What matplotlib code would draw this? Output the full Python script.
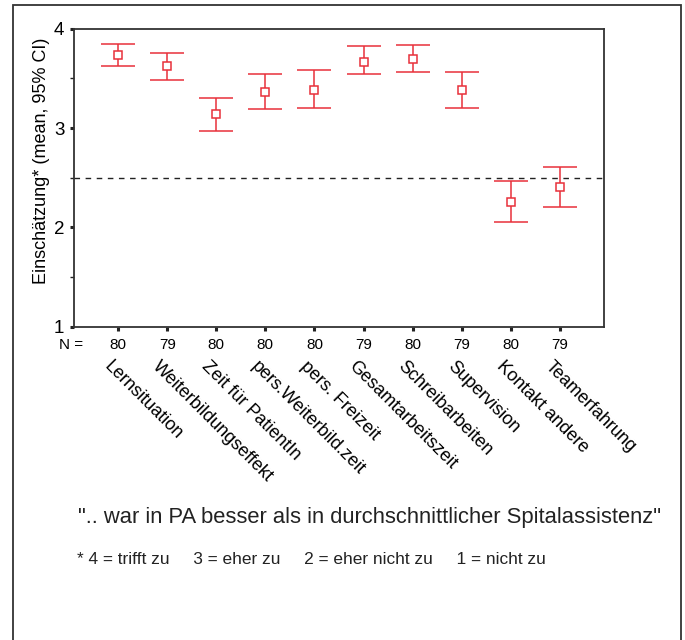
import matplotlib
matplotlib.use("Agg")
import matplotlib.pyplot as plt
from matplotlib.patches import Rectangle
import numpy as np

plt.rcParams['font.family'] = ['Liberation Sans', 'DejaVu Sans']

categories = ["Lernsituation", "Weiterbildungseffekt", "Zeit für PatientIn",
              "pers.Weiterbild.zeit", "pers. Freizeit", "Gesamtarbeitszeit",
              "Schreibarbeiten", "Supervision", "Kontakt andere", "Teamerfahrung"]
n_values = [80, 79, 80, 80, 80, 79, 80, 79, 80, 79]
means = [3.74, 3.62, 3.14, 3.36, 3.38, 3.67, 3.70, 3.38, 2.26, 2.41]
upper = [3.85, 3.76, 3.30, 3.54, 3.58, 3.83, 3.84, 3.56, 2.47, 2.61]
lower = [3.62, 3.48, 2.97, 3.19, 3.20, 3.54, 3.56, 3.20, 2.05, 2.21]
reference_line = 2.5
y_ticks = [1, 2, 3, 4]
y_minor = [1.5, 2.5, 3.5]

red = '#e8303a'
fig = plt.figure(figsize=(6.85, 6.4), dpi=100)
ax = fig.add_axes([0.108, 0.4895, 0.7737, 0.4656])

x = np.arange(1, len(categories) + 1)
m = np.array(means)
yerr = np.vstack([m - np.array(lower), np.array(upper) - m])
ax.errorbar(x, m, yerr=yerr, fmt='s', mfc='white', mec=red, ecolor=red,
            ms=5.8, mew=1.1, elinewidth=1.1, capsize=12, capthick=1.3, zorder=3)

ax.axhline(reference_line, color='#222222', ls=(0, (4, 4)), lw=1.0, zorder=2)

ax.set_xlim(0.1, 10.9)
ax.set_ylim(1, 4)
ax.set_yticks(y_ticks)
ax.set_yticks(y_minor, minor=True)
ax.set_xticks(x)
ax.set_xticklabels([])
ax.tick_params(axis='y', which='major', length=3, width=2.2, direction='out',
               labelsize=13.5, pad=4, color='#222222')
ax.tick_params(axis='y', which='minor', length=3, width=1.0, direction='out', color='#222222')
ax.tick_params(axis='x', length=3, width=2.2, direction='out', color='#222222')
for s in ax.spines.values():
    s.set_color('#333333')
    s.set_linewidth(1.3)

ax.set_ylabel("Einschätzung* (mean, 95% CI)", fontsize=13, labelpad=6)
ax.yaxis.set_label_coords(-0.045, 0.556)

trans = ax.get_xaxis_transform()
ax.text(0.017, -0.061, "N =", transform=ax.transAxes, ha='right', va='center', fontsize=11)
for xi, n in zip(x, n_values):
    ax.text(xi, -0.061, str(n), transform=trans, ha='center', va='center', fontsize=11)
for xi, c in zip(x, categories):
    ax.text(xi - 0.12, -0.105, c, transform=trans, ha='left', va='top',
            rotation=-45, rotation_mode='anchor', fontsize=13)

fig.text(0.114, 0.192, '".. war in PA besser als in durchschnittlicher Spitalassistenz"',
         ha='left', va='center', fontsize=15.8, color='#222222')
fig.text(0.113, 0.125, "* 4 = trifft zu     3 = eher zu     2 = eher nicht zu     1 = nicht zu",
         ha='left', va='center', fontsize=12.4, color='#222222')

fig.patches.append(Rectangle((13 / 685, -0.01), (681 - 13) / 685, 0.992 + 0.01,
                             transform=fig.transFigure, fill=False,
                             edgecolor='#333333', lw=1.3))

fig.savefig("out.png", dpi=100)
